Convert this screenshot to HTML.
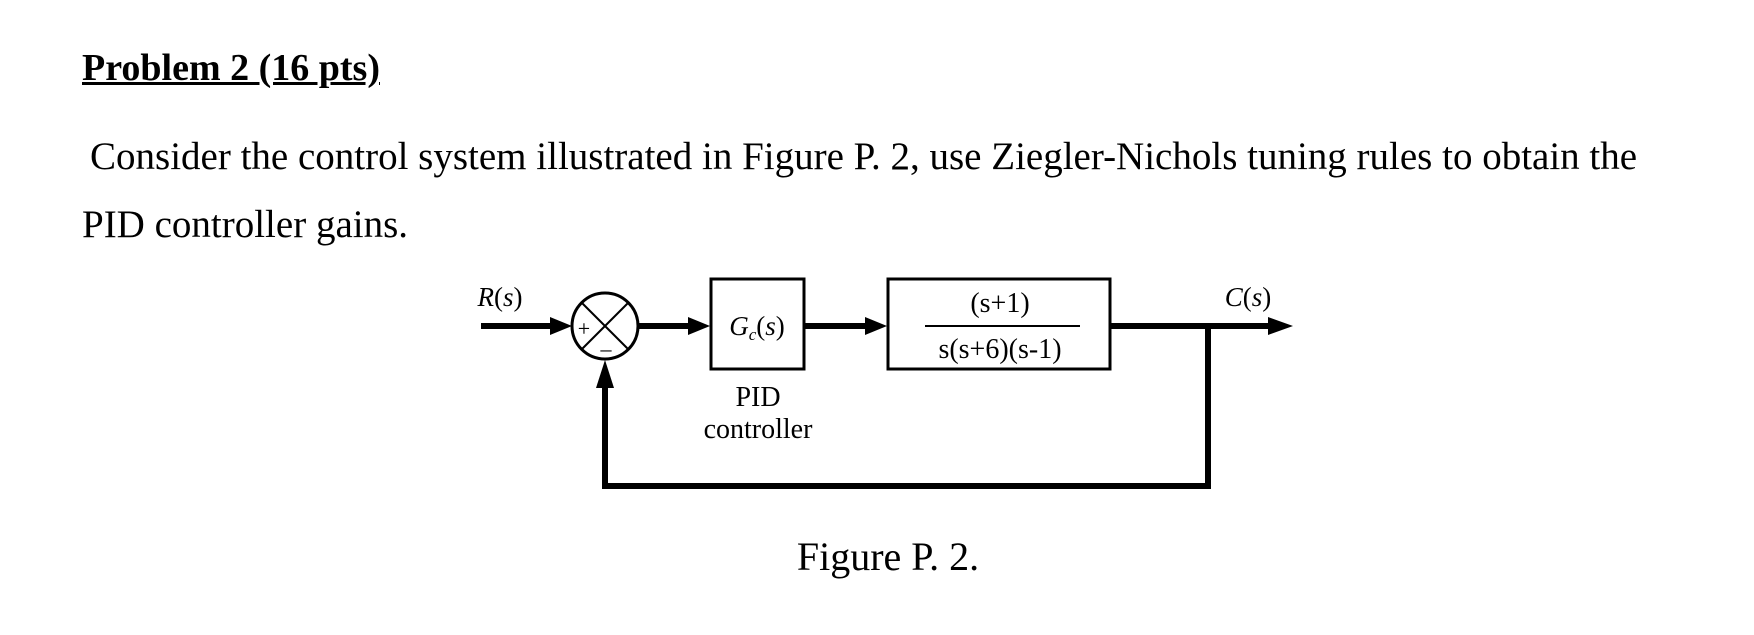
<!DOCTYPE html>
<html><head><meta charset="utf-8"><style>
html,body{margin:0;padding:0;background:#fff;}
body{width:1754px;height:635px;overflow:hidden;position:relative;font-family:"Liberation Serif",serif;color:#000;}
.t{position:absolute;white-space:nowrap;}
</style></head><body>
<div class="t" style="left:82px;top:46px;font-size:38px;font-weight:bold;text-decoration:underline;">Problem 2 (16 pts)</div>
<div class="t" style="left:90px;top:134px;font-size:39px;">Consider the control system illustrated in Figure P. 2, use Ziegler-Nichols tuning rules to obtain the</div>
<div class="t" style="left:82px;top:202px;font-size:39px;">PID controller gains.</div>
<svg width="1754" height="635" style="position:absolute;left:0;top:0" xmlns="http://www.w3.org/2000/svg">
<g font-family="Liberation Serif, serif" fill="#000">
<text x="500" y="306" font-size="27" text-anchor="middle"><tspan font-style="italic">R</tspan>(<tspan font-style="italic">s</tspan>)</text>
<text x="1248" y="306" font-size="27" text-anchor="middle"><tspan font-style="italic">C</tspan>(<tspan font-style="italic">s</tspan>)</text>
<text x="757" y="335" font-size="27" text-anchor="middle"><tspan font-style="italic">G</tspan><tspan font-size="17" font-style="italic" dy="5">c</tspan><tspan dy="-5">(</tspan><tspan font-style="italic">s</tspan>)</text>
<text x="1000" y="312" font-size="28" text-anchor="middle">(s+1)</text>
<text x="1000" y="358" font-size="28" text-anchor="middle">s(s+6)(s-1)</text>
<text x="758" y="406" font-size="28" text-anchor="middle">PID</text>
<text x="758" y="438" font-size="28" text-anchor="middle">controller</text>
<text x="888" y="570" font-size="40" text-anchor="middle">Figure P. 2.</text>
<text x="584" y="336" font-size="22" text-anchor="middle">+</text>
<text x="606" y="356" font-size="22" text-anchor="middle">–</text>
</g>
<g stroke="#000" fill="none">
<line x1="481" y1="326" x2="556" y2="326" stroke-width="6"/>
<circle cx="605" cy="326" r="33" stroke-width="3"/>
<line x1="582" y1="303" x2="628" y2="349" stroke-width="2"/>
<line x1="628" y1="303" x2="582" y2="349" stroke-width="2"/>
<line x1="638" y1="326" x2="692" y2="326" stroke-width="6"/>
<rect x="711" y="279" width="93" height="90" stroke-width="3"/>
<line x1="804" y1="326" x2="868" y2="326" stroke-width="6"/>
<rect x="888" y="279" width="222" height="90" stroke-width="3"/>
<line x1="925" y1="326" x2="1080" y2="326" stroke-width="2"/>
<line x1="1110" y1="326" x2="1270" y2="326" stroke-width="6"/>
<polyline points="1208,326 1208,486 605,486 605,385" stroke-width="6"/>
</g>
<g fill="#000">
<polygon points="572,326 550,317 550,335"/>
<polygon points="710,326 688,317 688,335"/>
<polygon points="887,326 865,317 865,335"/>
<polygon points="1293,326 1268,317 1268,335"/>
<polygon points="605,360 596,388 614,388"/>
</g>
</svg>
</body></html>
